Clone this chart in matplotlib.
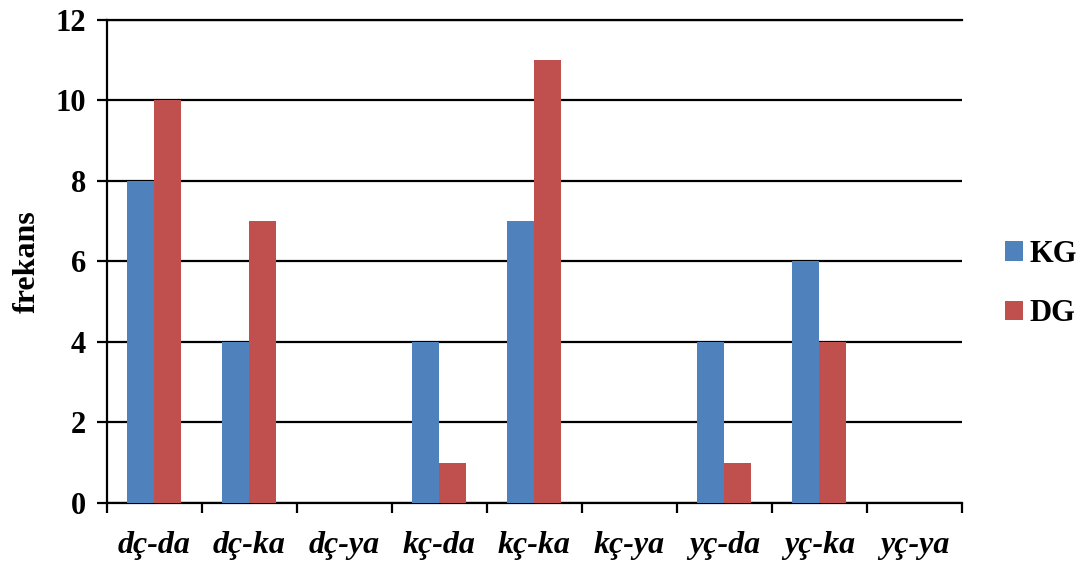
import numpy as np
import matplotlib
matplotlib.use('Agg')
import matplotlib.pyplot as plt

categories = ['dç-da', 'dç-ka', 'dç-ya', 'kç-da', 'kç-ka', 'kç-ya', 'yç-da', 'yç-ka', 'yç-ya']
kg_values = [8, 4, 0, 4, 7, 0, 4, 6, 0]
dg_values = [10, 7, 0, 1, 11, 0, 1, 4, 0]

plt.rcParams['font.family'] = ['Liberation Serif', 'DejaVu Serif']

fig = plt.figure(figsize=(10.86, 5.63), dpi=100)
ax = fig.add_axes([0.0985, 0.1066, 0.7873, 0.8579])

x = np.arange(len(categories))
width = 0.284
ax.bar(x - width / 2, kg_values, width, color='#4F81BD', label='KG', zorder=3)
ax.bar(x + width / 2, dg_values, width, color='#C0504D', label='DG', zorder=3)

ax.set_xlim(-0.5, len(categories) - 0.5)
ax.set_ylim(0, 12)
ax.set_yticks(range(0, 13, 2))
ax.yaxis.grid(True, color='black', linewidth=1.6, zorder=1)
ax.set_axisbelow(True)

# category labels sit between boundary ticks
ax.set_xticks(np.arange(-0.5, len(categories), 1.0))
ax.set_xticklabels([])
ax.set_xticks(x, minor=True)
ax.set_xticklabels(categories, minor=True, fontsize=23, fontweight='bold', style='italic')
ax.tick_params(axis='x', which='minor', length=0, pad=20)
ax.tick_params(axis='x', which='major', length=7, width=1.6, direction='out')
ax.tick_params(axis='y', length=7, width=1.6, direction='out', labelsize=22, pad=8)
for lbl in ax.get_yticklabels():
    lbl.set_fontweight('bold')

ax.spines['right'].set_visible(False)
for side in ['left', 'bottom', 'top']:
    ax.spines[side].set_linewidth(1.6)

ax.set_ylabel('frekans', fontsize=23, fontweight='bold', labelpad=10)

ax.legend(loc='center left', bbox_to_anchor=(1.05, 0.453), frameon=False,
          borderaxespad=0, borderpad=0,
          prop={'size': 22, 'weight': 'bold'}, handlelength=0.6, handleheight=0.6,
          handletextpad=0.2, labelspacing=1.0)

fig.savefig('out.png', dpi=100)
